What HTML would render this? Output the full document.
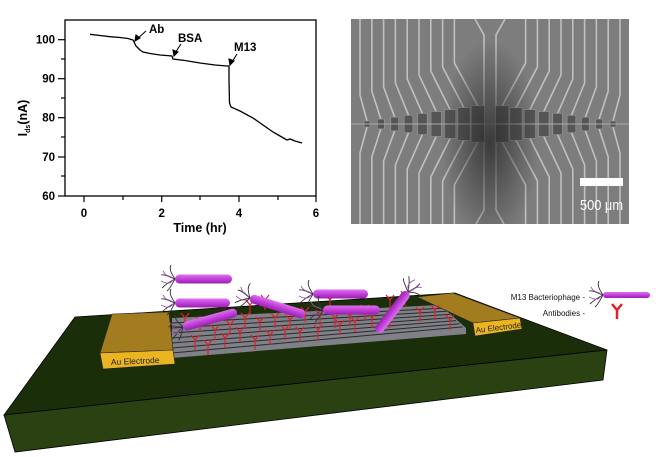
<!DOCTYPE html>
<html><head><meta charset="utf-8"><style>
html,body{margin:0;padding:0;background:#fff;width:663px;height:457px;overflow:hidden}
svg{display:block}
</style></head><body>
<svg id="s" width="663" height="457" viewBox="0 0 663 457" xmlns="http://www.w3.org/2000/svg" font-family="Liberation Sans, sans-serif">
<defs>
<radialGradient id="dark" cx="0.5" cy="0.6" r="0.5" gradientTransform="translate(0.5,0.6) scale(0.35,1) translate(-0.5,-0.6)">
<stop offset="0" stop-color="#2a2a2a" stop-opacity="0.8"/><stop offset="1" stop-color="#2a2a2a" stop-opacity="0"/>
</radialGradient>
<linearGradient id="ph" x1="0" y1="0" x2="0" y2="1">
<stop offset="0" stop-color="#e070f0"/><stop offset="0.5" stop-color="#c040d8"/><stop offset="1" stop-color="#9a20b0"/>
</linearGradient>
</defs>
<!-- Chart -->
<rect x="65" y="20" width="251" height="176" fill="none" stroke="#000" stroke-width="1.3"/>
<g stroke="#000" stroke-width="1.2">
<line x1="58" y1="39.7" x2="65" y2="39.7"/><line x1="58" y1="78.7" x2="65" y2="78.7"/><line x1="58" y1="117.7" x2="65" y2="117.7"/><line x1="58" y1="157" x2="65" y2="157"/><line x1="58" y1="196" x2="65" y2="196"/>
<line x1="61" y1="59" x2="65" y2="59"/><line x1="61" y1="98" x2="65" y2="98"/><line x1="61" y1="137" x2="65" y2="137"/><line x1="61" y1="176" x2="65" y2="176"/>
<line x1="84" y1="196" x2="84" y2="202"/><line x1="161.7" y1="196" x2="161.7" y2="202"/><line x1="239" y1="196" x2="239" y2="202"/><line x1="316" y1="196" x2="316" y2="202"/>
<line x1="123" y1="196" x2="123" y2="200"/><line x1="200" y1="196" x2="200" y2="200"/><line x1="278" y1="196" x2="278" y2="200"/>
</g>
<g font-size="11.5" font-weight="bold" text-anchor="end">
<text x="55" y="43.5">100</text><text x="55" y="82.5">90</text><text x="55" y="121.5">80</text><text x="55" y="161">70</text><text x="55" y="200">60</text>
</g>
<g font-size="11.5" font-weight="bold" text-anchor="middle">
<text x="84" y="217">0</text><text x="161.7" y="217">2</text><text x="239" y="217">4</text><text x="316" y="217">6</text>
<text x="200" y="232" font-size="12.5">Time (hr)</text>
</g>
<text transform="translate(27,118) rotate(-90)" font-size="12.5" font-weight="bold" text-anchor="middle">I<tspan font-size="7" dy="3">ds</tspan><tspan dy="-3">(nA)</tspan></text>
<polyline fill="none" stroke="#000" stroke-width="1.3" points="90,34.3 100,35.5 110,36.7 120,37.5 128,38.5 133,40 136,46 140,50 143,52 150,53.5 160,55 172,56 173,59 185,60.5 200,63 215,65 227,66 229,66 229,80 229.5,103 231,107 240,111 253,118 263,125 273,132 280,136 287,140 290,139 295,141 302,143"/>
<g font-size="11.5" font-weight="bold">
<text x="149" y="33">Ab</text><text x="178" y="42">BSA</text><text x="234" y="51">M13</text>
</g>
<g stroke="#000" stroke-width="1.1" fill="#000">
<line x1="146" y1="31" x2="137" y2="39"/><polygon points="135,41 136,35 140,38"/>
<line x1="181" y1="44" x2="175" y2="53"/><polygon points="174,56 173,50 178,52"/>
<line x1="237" y1="54" x2="232" y2="62"/><polygon points="230,65 229,59 234,61"/>
</g>
<!-- SEM -->
<rect x="351" y="19" width="278" height="205" fill="#7d7d7d"/>
<g id="sem" fill="none" stroke="#c0c0c0" stroke-width="1.6"></g>
<rect x="351" y="19" width="278" height="205" fill="url(#dark)"/>
<rect x="580" y="178" width="43" height="8" fill="#fff"/>
<text x="580" y="210" font-size="15" fill="#fff" textLength="43" lengthAdjust="spacingAndGlyphs">500 μm</text>
<!-- Substrate -->
<polygon points="75,317 455,293 607,350 4,415" fill="#1b2e0a" stroke="#000" stroke-width="0.8"/>
<polygon points="4,415 607,350 603,380 15,452" fill="#2a4212" stroke="#000" stroke-width="0.8"/>
<!-- Stripes -->
<polygon points="172,318 440,305 466,328 466,334 172,358" fill="#7f8088"/>
<g id="str" stroke="#2a2a2a" stroke-width="1"></g>
<!-- Left electrode -->
<polygon points="112,314 169,312 173,350 100,353" fill="#a27c1e" stroke="#222" stroke-width="0.6"/>
<polygon points="100,353 173,350 175,364 103,369" fill="#ebb421" stroke="#222" stroke-width="0.6"/>
<text x="111" y="365" font-size="8.5" fill="#222" transform="rotate(-2.5 111 365)">Au Electrode</text>
<!-- Right electrode -->
<polygon points="417,297 453,293 520,318 473,323" fill="#a27c1e" stroke="#222" stroke-width="0.6"/>
<polygon points="473,323 520,318 522,329 475,336" fill="#ebb421" stroke="#222" stroke-width="0.6"/>
<text x="476" y="333" font-size="8" fill="#222" transform="rotate(-7 476 333)">Au Electrode</text>
<g id="ab" stroke="#e0202a" stroke-width="1.2" fill="none"></g>
<g id="phg"></g>
<!-- Legend -->
<text x="585" y="300" font-size="8" text-anchor="end" fill="#111">M13 Bacteriophage -</text>
<text x="585" y="316" font-size="8" text-anchor="end" fill="#111">Antibodies -</text>
<g stroke="#e0202a" stroke-width="2.5" fill="none"><path d="M612,304 L617,310 L622,304 M617,310 L617,319"/></g>
</svg>
<script>
var NS="http://www.w3.org/2000/svg";
function el(p,t,a){var e=document.createElementNS(NS,t);for(var k in a)e.setAttribute(k,a[k]);p.appendChild(e);return e;}
var sem=document.getElementById('sem');
el(sem,'polyline',{points:"475,19 484,35 484,210 476,224"});
el(sem,'polyline',{points:"505,19 496,35 496,210 504,224"});
var midY=124;
for(var i=0;i<9;i++){
 var xl=360+11.8*i, xr=620-11.8*i;
 var px=xl+4+i*1.6;
 var ph=3+i*1.9, pw=6+i*0.9;
 var yTop=midY-ph, yBot=midY+ph;
 el(sem,'polyline',{points:xl+",19 "+xl+","+(95-i*4)+" "+(px+pw/2)+","+yTop});
 el(sem,'polyline',{points:xl+",224 "+xl+","+(153+i*4)+" "+(px+pw/2)+","+yBot});
 el(sem,'polyline',{points:xr+",19 "+xr+","+(95-i*4)+" "+(980-px-pw/2)+","+yTop});
 el(sem,'polyline',{points:xr+",224 "+xr+","+(153+i*4)+" "+(980-px-pw/2)+","+yBot});
 el(sem,'rect',{x:px,y:midY-ph,width:pw,height:2*ph,fill:"#555",stroke:"#999","stroke-width":"0.6"});
 el(sem,'rect',{x:980-px-pw,y:midY-ph,width:pw,height:2*ph,fill:"#555",stroke:"#999","stroke-width":"0.6"});
}
el(sem,'line',{x1:351,y1:midY,x2:629,y2:midY,stroke:"#aaa","stroke-width":"1"});
var st=document.getElementById('str');
for(var j=1;j<8;j++){
 var t=j/8; var yl=318+t*40, yr=305+t*(330-305);
 var xr2=440+ t*26;
 el(st,'line',{x1:172,y1:yl,x2:xr2,y2:yr});
}
var ab=document.getElementById('ab');
var Ys=[[185,318],[200,322],[215,330],[230,325],[245,318],[260,322],[275,318],[290,320],[305,312],[320,315],[335,318],[350,316],[365,310],[390,300],[405,296],[420,312],[435,310],[450,320],[195,340],[208,345],[225,338],[240,332],[255,340],[270,335],[285,330],[300,332],[318,330],[340,325],[355,322],[372,318],[390,318],[250,305],[265,300],[330,300]];
Ys.forEach(function(p){var x=p[0],y=p[1];el(ab,'path',{d:"M"+(x-4)+","+(y-5)+" L"+x+","+y+" L"+(x+4)+","+(y-5)+" M"+x+","+y+" L"+x+","+(y+10)});});
var pg=document.getElementById('phg');
function phage(x1,y1,x2,y2,w){
 var dx=x2-x1,dy=y2-y1,L=Math.sqrt(dx*dx+dy*dy),a=Math.atan2(dy,dx)*180/Math.PI;
 var g=el(pg,'g',{transform:"translate("+x1+","+y1+") rotate("+a+")"});
 var f=el(g,'g',{stroke:"#333","stroke-width":"0.9",fill:"none"});
 el(f,'path',{d:"M0,0 C-4,-6 -6,-10 -4,-14 M0,0 C-6,-2 -10,-5 -14,-4 M0,0 C-6,3 -10,6 -13,9 M0,0 C-3,5 -5,10 -8,12"});
 el(f,'path',{d:"M-2,-1 C-6,-4 -9,-2 -12,-8 M-2,1 C-5,6 -10,4 -14,2",stroke:"#a050b0"});
 el(g,'rect',{x:0,y:-w/2,width:L,height:w,rx:w/2,fill:"url(#ph)"});
}
phage(175,279,232,279,9);
phage(175,303,230,303,9);
phage(183,327,237,312,9);
phage(250,298,305,315,9);
phage(313,294,368,294,9);
phage(323,310,380,310,9);
phage(408,292,377,332,9);
phage(603,295,650,295,6);
</script>
</body></html>
